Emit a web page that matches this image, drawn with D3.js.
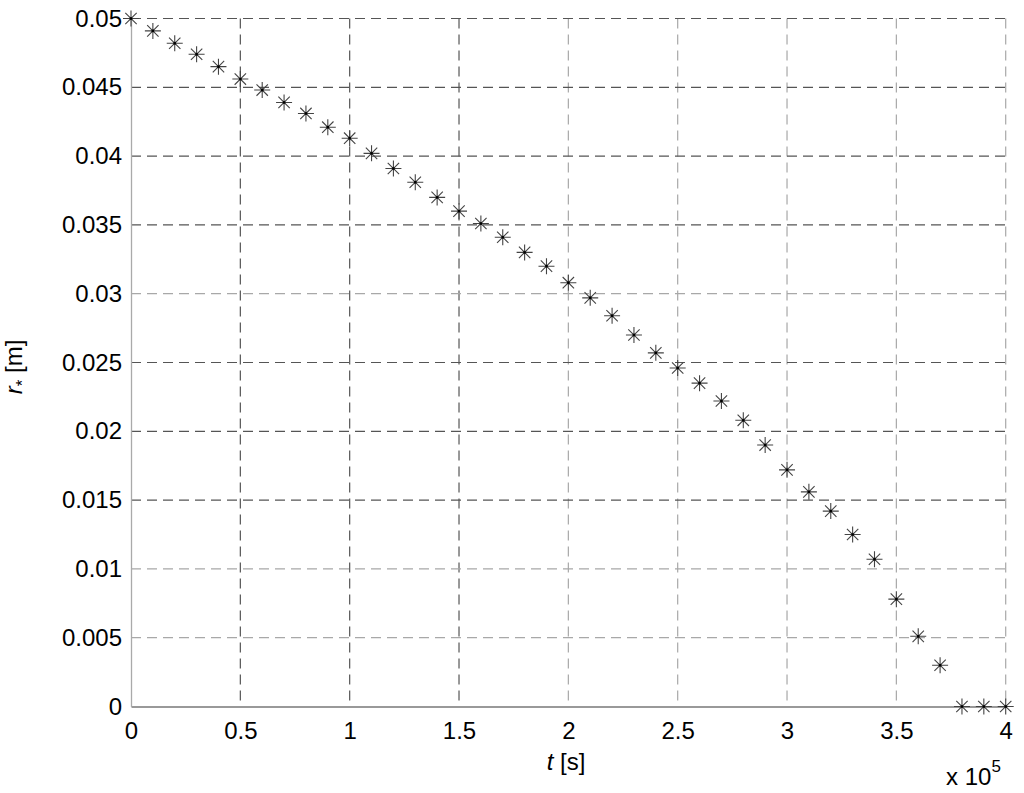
<!DOCTYPE html>
<html>
<head>
<meta charset="utf-8">
<script src="https://cdn.jsdelivr.net/npm/d3@7"></script>
<style>
  html, body { margin: 0; padding: 0; background: #fff; }
  svg { display: block; font-family: "Liberation Sans", Arial, sans-serif; }
</style>
</head>
<body>
<svg id="chart" width="1024" height="793"></svg>
<script>
// ---- data ----
const tValues = [0, 0.1, 0.2, 0.3, 0.4, 0.5, 0.6, 0.7, 0.8, 0.9,
                 1.0, 1.1, 1.2, 1.3, 1.4, 1.5, 1.6, 1.7, 1.8, 1.9,
                 2.0, 2.1, 2.2, 2.3, 2.4, 2.5, 2.6, 2.7, 2.8, 2.9,
                 3.0, 3.1, 3.2, 3.3, 3.4, 3.5, 3.6, 3.7, 3.8, 3.9, 4.0]; // x 10^5 s
const rValues = [0.0500, 0.0491, 0.0482, 0.0474, 0.0465, 0.0456, 0.0448, 0.0439, 0.0431, 0.0421,
                 0.0413, 0.0402, 0.0391, 0.0381, 0.0370, 0.0360, 0.0351, 0.0341, 0.0330, 0.0320,
                 0.0308, 0.0297, 0.0284, 0.0270, 0.0257, 0.0246, 0.0235, 0.0222, 0.0208, 0.0190,
                 0.0172, 0.0156, 0.0142, 0.0125, 0.0107, 0.0078, 0.0051, 0.0030, 0, 0, 0];
const xTicks = [0, 0.5, 1, 1.5, 2, 2.5, 3, 3.5, 4];
const xTickLabels = ["0", "0.5", "1", "1.5", "2", "2.5", "3", "3.5", "4"];
const yTicks = [0, 0.005, 0.01, 0.015, 0.02, 0.025, 0.03, 0.035, 0.04, 0.045, 0.05];
const yTickLabels = ["0", "0.005", "0.01", "0.015", "0.02", "0.025", "0.03", "0.035", "0.04", "0.045", "0.05"];

// ---- layout ----
const svg = d3.select("#chart");
const L = 131, R = 1005.7, T = 18.5, B = 706.5;
const FS = 24;
const x = d3.scaleLinear().domain([0, 4]).range([L, R]);
const y = d3.scaleLinear().domain([0, 0.05]).range([B, T]);

// grid line tones (mimic reference rendering)
const lightX = new Set([2, 2.5, 3, 3.5, 4]);
const lightY = new Set([0.03, 0.01, 0.005]);

const grid = svg.append("g");
grid.selectAll("line.vx").data(xTicks.filter(d => d > 0)).enter().append("line")
  .attr("x1", d => x(d)).attr("x2", d => x(d))
  .attr("y1", T).attr("y2", B)
  .attr("stroke", d => lightX.has(d) ? "#a8a8a8" : "#555")
  .attr("stroke-width", 1.2)
  .attr("stroke-dasharray", "10,6");
grid.selectAll("line.hy").data(yTicks.filter(d => d > 0)).enter().append("line")
  .attr("x1", L).attr("x2", R)
  .attr("y1", d => y(d)).attr("y2", d => y(d))
  .attr("stroke", d => lightY.has(d) ? "#a8a8a8" : "#555")
  .attr("stroke-width", 1.2)
  .attr("stroke-dasharray", "10,6");

// axes
const xAxis = d3.axisBottom(x).tickValues(xTicks)
  .tickFormat((d, i) => xTickLabels[i]).tickSize(0).tickPadding(15);
const yAxis = d3.axisLeft(y).tickValues(yTicks)
  .tickFormat((d, i) => yTickLabels[i]).tickSize(0).tickPadding(9);

const gx = svg.append("g").attr("transform", `translate(0,${B})`).call(xAxis);
gx.select(".domain").attr("stroke", "#777").attr("stroke-width", 1.3);
gx.selectAll("text").attr("font-size", FS).attr("fill", "#000")
  .attr("font-family", "Liberation Sans, Arial, sans-serif");

const gy = svg.append("g").attr("transform", `translate(${L},0)`).call(yAxis);
gy.select(".domain").attr("stroke", "#aaa").attr("stroke-width", 1.3);
gy.selectAll("text").attr("font-size", FS).attr("fill", "#000")
  .attr("font-family", "Liberation Sans, Arial, sans-serif");

// markers (asterisk)
const pts = tValues.map((t, i) => ({ t, r: rValues[i] }));
const m = svg.append("g");
const a = 8, d2 = 5.7;
const g = m.selectAll("g.pt").data(pts).enter().append("g")
  .attr("transform", d => `translate(${x(d.t)},${y(d.r)})`);
g.append("path")
  .attr("d", `M${-a},0H${a}M0,${-a}V${a}M${-d2},${-d2}L${d2},${d2}M${-d2},${d2}L${d2},${-d2}`)
  .attr("stroke", "#444").attr("stroke-width", 1.1).attr("fill", "none");
g.append("rect").attr("x", -1.2).attr("y", -1.2).attr("width", 2.4).attr("height", 2.4).attr("fill", "#000");

// axis labels
const xl = svg.append("text").attr("x", 566).attr("y", 770)
  .attr("text-anchor", "middle").attr("font-size", FS).attr("fill", "#000");
xl.append("tspan").attr("font-style", "italic").text("t");
xl.append("tspan").text(" [s]");

const yl = svg.append("text")
  .attr("transform", "translate(22,367) rotate(-90)")
  .attr("text-anchor", "middle").attr("font-size", FS).attr("fill", "#000");
yl.append("tspan").attr("font-style", "italic").text("r");
yl.append("tspan").attr("font-size", 17).attr("dy", 6).text("*");
yl.append("tspan").attr("dy", -6).text(" [m]");

// exponent label
const ex = svg.append("text").attr("x", 946).attr("y", 785)
  .attr("font-size", FS).attr("fill", "#000");
ex.append("tspan").text("x 10");
ex.append("tspan").attr("font-size", 17).attr("dy", -13).text("5");
</script>
</body>
</html>
